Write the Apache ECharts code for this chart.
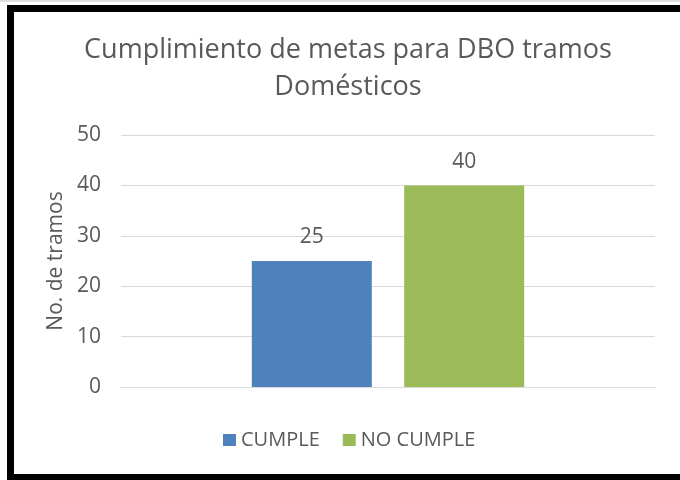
<!DOCTYPE html>
<html>
<head>
<meta charset="utf-8">
<script src="https://cdn.jsdelivr.net/npm/echarts@6/dist/echarts.min.js"></script>
<style>
  html, body { margin: 0; padding: 0; background: #fff; }
  #wrap { position: relative; width: 680px; height: 480px; overflow: hidden; background: #fff; }
  #chart { position: absolute; left: 0; top: 0; width: 680px; height: 480px; }
  .edge { position: absolute; background: #000; pointer-events: none; }
</style>
</head>
<body>
<div id="wrap">
  <div id="chart"></div>
  <div class="edge" style="left:0;top:0;width:680px;height:2px;background:#e0e0e0"></div>
  <div class="edge" style="left:7px;top:5px;width:673px;height:7px"></div>
  <div class="edge" style="left:7px;top:5px;width:7px;height:475px"></div>
  <div class="edge" style="left:7px;top:474px;width:673px;height:6px"></div>
</div>
<script>
const categories = [""];
const seriesNames = ["CUMPLE", "NO CUMPLE"];
const cumple = [25];
const noCumple = [40];
const yTicks = [0, 10, 20, 30, 40, 50];

const font = "'Open Sans', sans-serif";
const textColor = "#595959";

const chart = echarts.init(document.getElementById("chart"));

const option = {
  backgroundColor: "transparent",
  animation: false,
  title: {
    text: "Cumplimiento de metas para DBO tramos\nDomésticos",
    left: 343,
    textAlign: "center",
    top: 27,
    textStyle: {
      fontFamily: font,
      fontSize: 27,
      fontWeight: "normal",
      color: textColor,
      lineHeight: 37,
    },
  },
  legend: {
    data: seriesNames,
    left: 218,
    top: 425,
    icon: "rect",
    itemWidth: 13,
    itemHeight: 12,
    itemGap: 23,
    textStyle: { fontFamily: font, fontSize: 20, color: textColor },
  },
  grid: { left: 121, right: 25, top: 135, bottom: 93 },
  xAxis: {
    type: "category",
    data: categories,
    axisLine: { show: true, lineStyle: { color: "#d9d9d9", width: 1 } },
    axisTick: { show: false },
    axisLabel: { show: false },
  },
  yAxis: {
    type: "value",
    min: yTicks[0],
    max: yTicks[yTicks.length - 1],
    interval: 10,
    name: "No. de tramos",
    nameLocation: "middle",
    nameRotate: 90,
    nameGap: 54,
    nameTextStyle: { fontFamily: font, fontSize: 21, color: textColor },
    axisLine: { show: false },
    axisTick: { show: false },
    axisLabel: { fontFamily: font, fontSize: 21, color: textColor, margin: 20 },
    splitLine: { lineStyle: { color: "#d9d9d9", width: 1 } },
  },
  series: [
    {
      name: seriesNames[0],
      type: "bar",
      data: cumple,
      barWidth: 120,
      barGap: "27%",
      itemStyle: { color: "#4F81BD" },
      label: { show: true, position: "top", distance: 13, fontFamily: font, fontSize: 21, color: textColor },
    },
    {
      name: seriesNames[1],
      type: "bar",
      data: noCumple,
      barWidth: 120,
      barGap: "27%",
      itemStyle: { color: "#9BBB59" },
      label: { show: true, position: "top", distance: 13, fontFamily: font, fontSize: 21, color: textColor },
    },
  ],
};

chart.setOption(option);
</script>
</body>
</html>
